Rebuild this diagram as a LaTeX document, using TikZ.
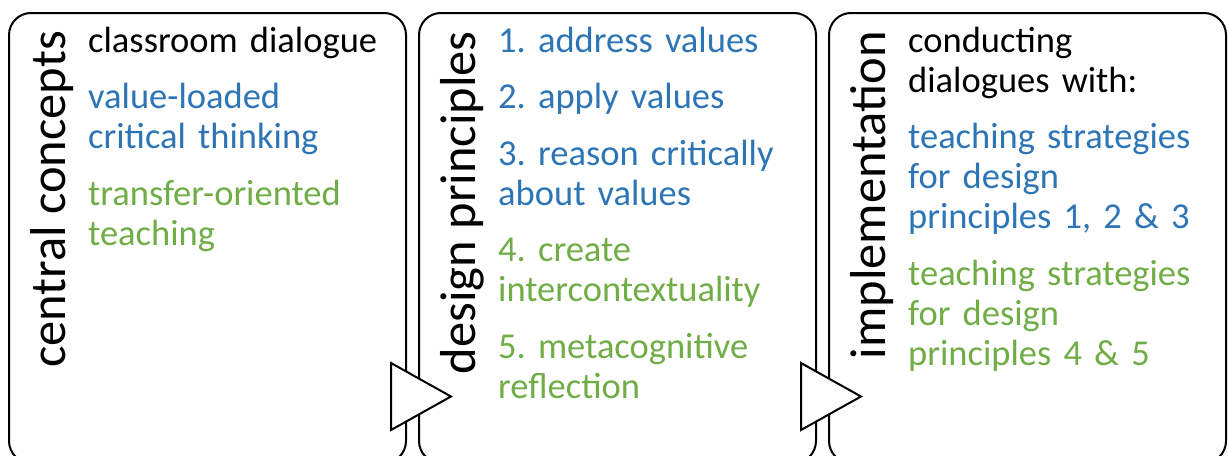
\documentclass[tikz,border=0pt]{standalone}
\usepackage{fontspec}
\setmainfont{Carlito}
\frenchspacing
\usetikzlibrary{shapes.geometric}
\definecolor{blue}{HTML}{2E75B6}
\definecolor{green}{HTML}{70AD47}
\tikzstyle{panel}=[draw=black, line width=2, rounded corners=22, minimum width=397, minimum height=450, anchor=north west, inner sep=0]
\tikzstyle{title}=[rotate=90, anchor=base east, inner sep=0, font=\fontsize{50.5}{60}\selectfont]
\tikzstyle{body}=[anchor=base west, inner sep=0, text width=320, align=left, font=\fontsize{36.5}{40}\selectfont]
\tikzstyle{pointer}=[isosceles triangle, isosceles triangle stretches, draw=black, fill=white, line width=2, minimum width=67, minimum height=60, inner sep=0, outer sep=0, anchor=west]

\begin{document}
\begin{tikzpicture}[x=1pt, y=-1pt]
  \useasboundingbox (0,0) rectangle (1228,455);
  \def\gap{16.5pt}  % extra space between items

  % PANELS
  \foreach \i/\name [evaluate={\x=8+410*(\i-1);}]
    in {1/central concepts, 2/design principles, 3/implementation}{  % loop over panels
    \node[panel] (P-\i) at (\x, 12) {};
    \node[title] (T-\i) at (\x+57, 31) {\name};
  }

  % TEXTS
  \node[body] (B-1) at (88, 52)
    {classroom dialogue\\[\gap]
     \textcolor{blue}{value-loaded\\critical thinking}\\[\gap]
     \textcolor{green}{transfer-oriented\\teaching}};
  \node[body] (B-2) at (498, 52)
    {\textcolor{blue}{1. address values}\\[\gap]
     \textcolor{blue}{2. apply values}\\[\gap]
     \textcolor{blue}{3. reason critically\\about values}\\[\gap]
     \textcolor{green}{4. create\\intercontextuality}\\[\gap]
     \textcolor{green}{5. metacognitive\\reflection}};
  \node[body] (B-3) at (908, 52)
    {conducting\\dialogues with:\\[\gap]
     \textcolor{blue}{teaching strategies\\for design\\principles 1, 2 \& 3}\\[\gap]
     \textcolor{green}{teaching strategies\\for design\\principles 4 \& 5}};

  % ARROWS
  \foreach \i [evaluate={\x=391+410*(\i-1);}] in {1, 2}{  % between panels
    \node[pointer] (A-\i) at (\x, 396.5) {};
  }
\end{tikzpicture}
\end{document}
